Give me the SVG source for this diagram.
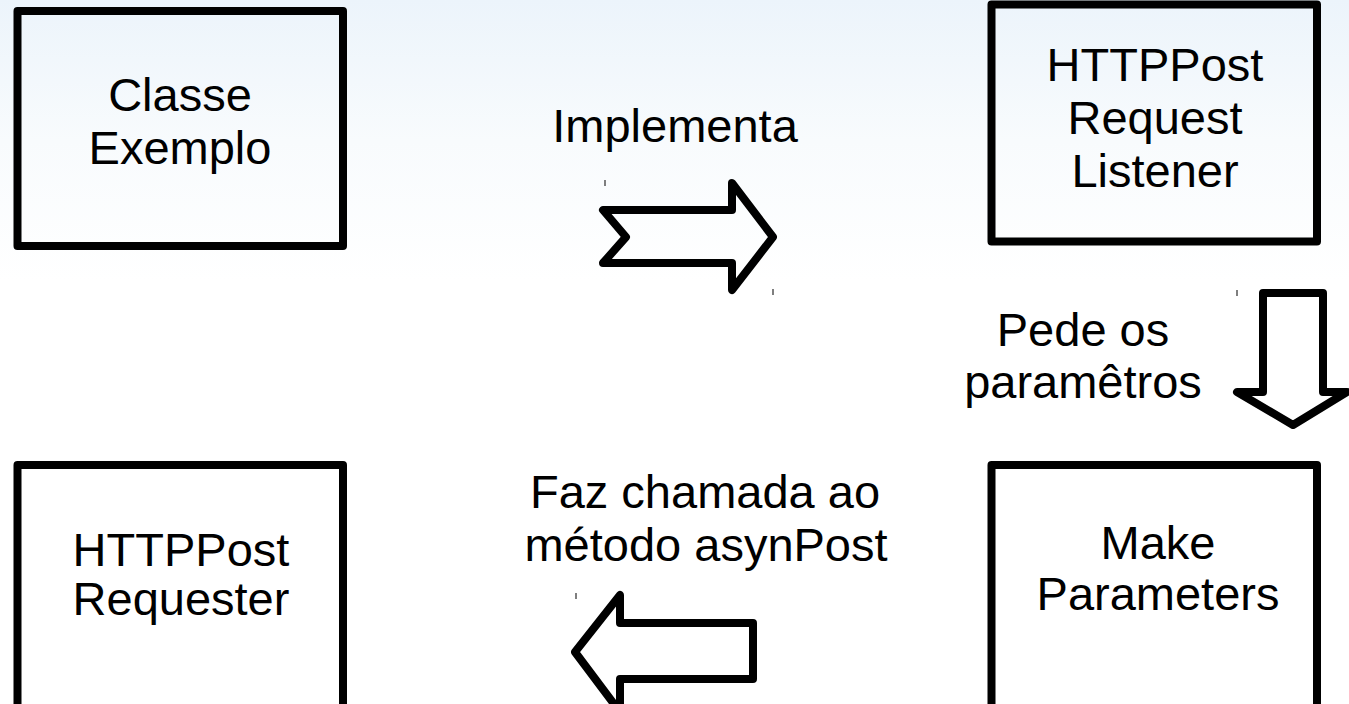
<svg xmlns="http://www.w3.org/2000/svg" width="1349" height="704" viewBox="0 0 1349 704">
<defs>
<linearGradient id="bg" x1="0" y1="0" x2="0" y2="1">
<stop offset="0" stop-color="#ecf4fb"/>
<stop offset="0.2" stop-color="#f8fbfd"/>
<stop offset="0.4" stop-color="#ffffff"/>
</linearGradient>
<style>
.box{fill:none;stroke:#000;stroke-width:8;stroke-linejoin:round}
.arr{fill:none;stroke:#000;stroke-width:8;stroke-linejoin:round}
.tick{stroke:#555;stroke-width:1.5}
text{font-family:"Liberation Sans",Arial,sans-serif;font-size:47px;fill:#000;text-anchor:middle}
</style>
</defs>
<rect width="1349" height="704" fill="url(#bg)"/>
<g id="classe-exemplo">
<rect class="box" x="17.5" y="11" width="325.5" height="235"/>
<text x="180" y="111">Classe</text>
<text x="180" y="164">Exemplo</text>
</g>
<g id="httppost-request-listener">
<rect class="box" x="991.5" y="4.5" width="325.5" height="237"/>
<text x="1155" y="81">HTTPPost</text>
<text x="1155" y="134">Request</text>
<text x="1155" y="187">Listener</text>
</g>
<g id="httppost-requester">
<rect class="box" x="17.5" y="465" width="325.5" height="260"/>
<text x="181" y="566">HTTPPost</text>
<text x="181" y="615">Requester</text>
</g>
<g id="make-parameters">
<rect class="box" x="991.5" y="465" width="325.5" height="260"/>
<text x="1158" y="559">Make</text>
<text x="1158" y="610">Parameters</text>
</g>
<g id="connectors">
<polygon class="arr" points="603,210 732,210 732,183 773,237 732,290 732,263 603,263 626,237"/>
<polygon class="arr" points="1263,293 1323,293 1323,392 1347,392 1293,425 1237,392 1263,392"/>
<polygon class="arr" points="575,652 620,595 620,623 753,623 753,679 620,679 620,712"/>
<text x="675" y="142">Implementa</text>
<text x="1083" y="346">Pede os</text>
<text x="1083" y="398">paramêtros</text>
<text x="705" y="508">Faz chamada ao</text>
<text x="706" y="561">método asynPost</text>
<line class="tick" x1="605" y1="180" x2="605" y2="186"/>
<line class="tick" x1="773" y1="289" x2="773" y2="295"/>
<line class="tick" x1="1237" y1="290" x2="1237" y2="296"/>
<line class="tick" x1="576" y1="593" x2="576" y2="599"/>
</g>
</svg>
